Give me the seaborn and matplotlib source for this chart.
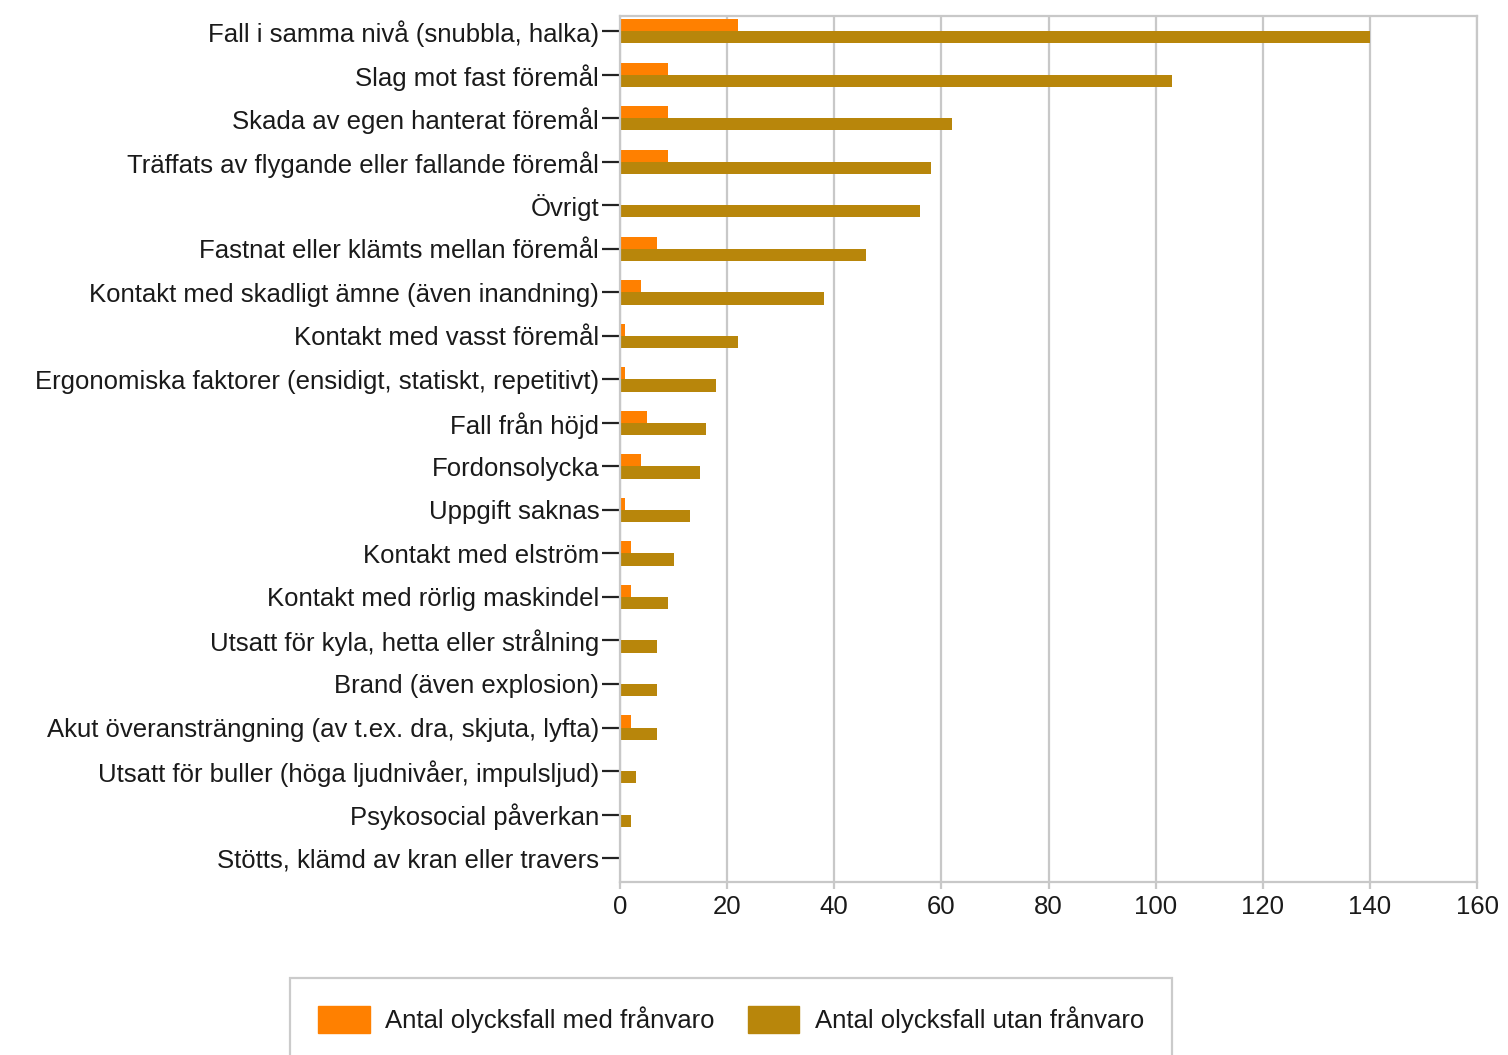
import matplotlib
matplotlib.use('Agg')
import matplotlib.pyplot as plt
import seaborn as sns
import pandas as pd

# categories, top to bottom
categories = [
    'Fall i samma nivå (snubbla, halka)',
    'Slag mot fast föremål',
    'Skada av egen hanterat föremål',
    'Träffats av flygande eller fallande föremål',
    'Övrigt',
    'Fastnat eller klämts mellan föremål',
    'Kontakt med skadligt ämne (även inandning)',
    'Kontakt med vasst föremål',
    'Ergonomiska faktorer (ensidigt, statiskt, repetitivt)',
    'Fall från höjd',
    'Fordonsolycka',
    'Uppgift saknas',
    'Kontakt med elström',
    'Kontakt med rörlig maskindel',
    'Utsatt för kyla, hetta eller strålning',
    'Brand (även explosion)',
    'Akut överansträngning (av t.ex. dra, skjuta, lyfta)',
    'Utsatt för buller (höga ljudnivåer, impulsljud)',
    'Psykosocial påverkan',
    'Stötts, klämd av kran eller travers',
]
med_franvaro = [22, 9, 9, 9, 0, 7, 4, 1, 1, 5, 4, 1, 2, 2, 0, 0, 2, 0, 0, 0]
utan_franvaro = [140, 103, 62, 58, 56, 46, 38, 22, 18, 16, 15, 13, 10, 9, 7, 7, 7, 3, 2, 0]
series_names = ['Antal olycksfall med frånvaro', 'Antal olycksfall utan frånvaro']
colors = ['#FF8000', '#B8860B']
x_ticks = [0, 20, 40, 60, 80, 100, 120, 140, 160]

df = pd.DataFrame({
    'kategori': categories * 2,
    'antal': med_franvaro + utan_franvaro,
    'serie': [series_names[0]] * len(categories) + [series_names[1]] * len(categories),
})

sns.set_style('white')
plt.rcParams['font.family'] = ['Liberation Sans', 'DejaVu Sans']
fs = 18.5

fig = plt.figure(figsize=(15.08, 10.55), dpi=100)
ax = fig.add_axes([620 / 1508, 1 - 882 / 1055, (1477 - 620) / 1508, (882 - 16) / 1055])

sns.barplot(data=df, y='kategori', x='antal', hue='serie', order=categories,
            hue_order=series_names, palette=colors, width=0.56, ax=ax,
            saturation=1, legend=False, edgecolor='none')

ax.set_xlim(0, 160)
ax.set_xticks(x_ticks)
ax.set_ylim(19.55, -0.35)
ax.set_xlabel('')
ax.set_ylabel('')
ax.grid(axis='x', color='#c8c8c8', linewidth=1.6)
ax.set_axisbelow(True)
for s in ax.spines.values():
    s.set_color('#c8c8c8')
    s.set_linewidth(1.6)

ax.tick_params(axis='y', length=13, width=1.6, color='#222222', labelsize=fs, pad=2,
               left=True, labelcolor='#1a1a1a')
ax.tick_params(axis='x', length=5, width=1.6, color='#c8c8c8', labelsize=fs, pad=4,
               bottom=True, labelcolor='#1a1a1a')

# legend below the plot, box runs off the bottom edge
handles = [plt.Rectangle((0, 0), 1, 1, color=c) for c in colors]
leg = fig.legend(handles, series_names, loc='upper left', ncol=2,
                 bbox_to_anchor=(290 / 1508, 1 - 978 / 1055), borderaxespad=0,
                 fontsize=fs, frameon=True, fancybox=False,
                 handlelength=2.0, handleheight=1.2, columnspacing=1.3,
                 borderpad=1.1, handletextpad=0.6)
leg.get_frame().set_edgecolor('#bfbfbf')
leg.get_frame().set_linewidth(1.6)
for t in leg.get_texts():
    t.set_color('#1a1a1a')

fig.savefig('out.png', dpi=100, facecolor='white')
